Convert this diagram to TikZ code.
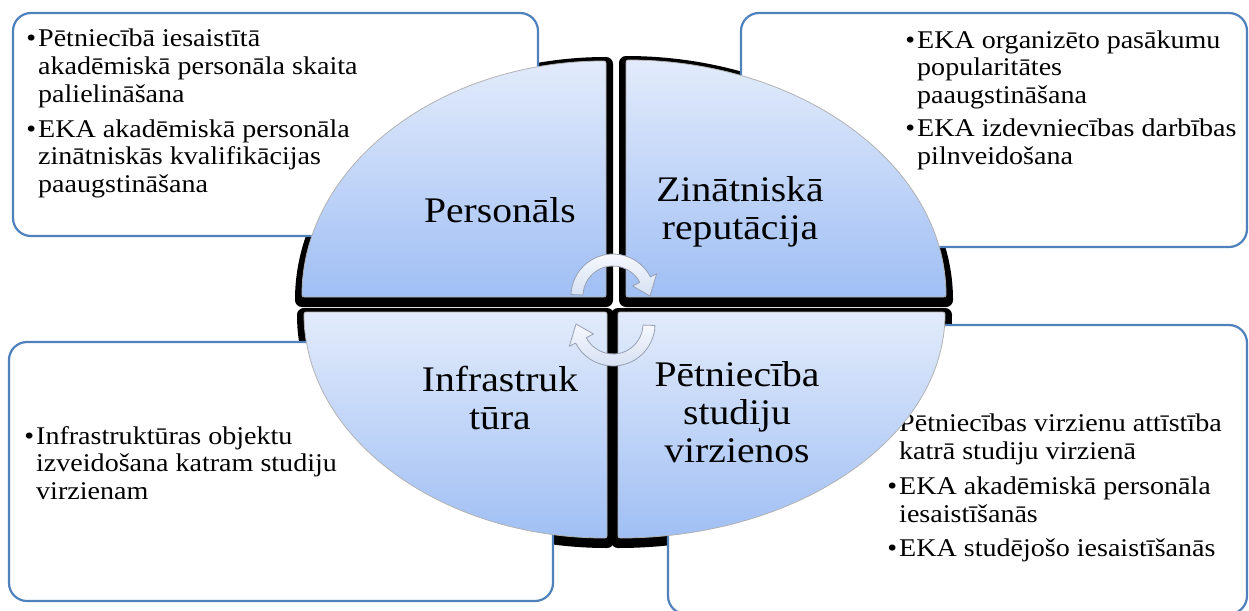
\documentclass[tikz,border=0pt]{standalone}
\usepackage{fontspec}
\setmainfont{Liberation Serif}[FakeStretch=1.1]
\usetikzlibrary{calc}
\definecolor{boxblue}{RGB}{79,129,189}
\definecolor{qtop}{RGB}{226,235,251}
\definecolor{qbot}{RGB}{160,191,244}
\definecolor{arrtop}{RGB}{246,248,253}
\definecolor{arrbot}{RGB}{214,225,243}
\definecolor{arrline}{RGB}{150,160,178}
\newcommand{\mybul}{\llap{\textbullet\hspace{2pt}}}
\def\qTL{(606,297) -- (302,297) arc[start angle=180, end angle=270, x radius=304, y radius=236] -- cycle}
\def\qTR{(626,297) -- (626,60) arc[start angle=270, end angle=360, x radius=320, y radius=237] -- cycle}
\def\qBL{(607,312) -- (304,312) arc[start angle=180, end angle=90, x radius=303, y radius=226] -- cycle}
\def\qBR{(618,312) -- (618,538) arc[start angle=90, end angle=0, x radius=327, y radius=226] -- cycle}
\begin{document}
\begin{tikzpicture}[x=1pt,y=-1pt,
  infobox/.style={draw=boxblue, line width=2.2pt, rounded corners=18pt, fill=white},
  qshadow/.style={fill=black, draw=black, line width=14pt, line join=round, shift={(0,3)}},
  qfill/.style={top color=qtop, bottom color=qbot, draw=gray!60, line width=0.8pt, rounded corners=2pt},
  btext/.style={inner sep=0pt, anchor=base west, align=left, font=\fontsize{25.5}{27.5}\selectfont},
  qlabel/.style={inner sep=0pt, anchor=base, align=center, font=\fontsize{36}{38}\selectfont},
  cyc/.style={top color=arrtop, bottom color=arrbot, draw=arrline, line width=0.8pt, line join=round}
]
\useasboundingbox (0,0) rectangle (1249,610);
\fill[white] (0,0) rectangle (1249,610);
% black outlines of the four quarters
\path[qshadow] \qTL;
\path[qshadow] \qTR;
\path[qshadow] \qBL;
\path[qshadow] \qBR;
% text boxes
\draw[infobox] (13,13) rectangle (538,236);
\draw[infobox] (741,13) rectangle (1247,247);
\draw[infobox] (9,342) rectangle (553,601);
\draw[infobox] (668,325) rectangle (1247,614);
% box texts (anchored at the baseline of their last line)
\node[btext] (tl1) at (38,102) {\mybul Pētniecībā iesaistītā\\akadēmiskā personāla skaita\\palielināšana};
\node[btext] (tl2) at (38,192) {\mybul EKA akadēmiskā personāla\\zinātniskās kvalifikācijas\\paaugstināšana};
\node[btext] (tr1) at (917,103) {\mybul EKA organizēto pasākumu\\popularitātes\\paaugstināšana};
\node[btext] (tr2) at (917,164) {\mybul EKA izdevniecības darbības\\pilnveidošana};
\node[btext] (bl1) at (36,499) {\mybul Infrastruktūras objektu\\izveidošana katram studiju\\virzienam};
\node[btext] (br1) at (899,459) {\mybul Pētniecības virzienu attīstība\\katrā studiju virzienā};
\node[btext] (br2) at (899,522) {\mybul EKA akadēmiskā personāla\\iesaistīšanās};
\node[btext] (br3) at (899,556) {\mybul EKA studējošo iesaistīšanās};
% quarter fills
\path[qfill] \qTL;
\path[qfill] \qTR;
\path[qfill] \qBL;
\path[qfill] \qBR;
% quarter labels (anchored at the baseline of their last line)
\node[qlabel] (lp) at (500,222) {Personāls};
\node[qlabel] (lz) at (740,239) {Zinātniskā\\reputācija};
\node[qlabel] (li) at (500,429) {Infrastruk\\tūra};
\node[qlabel] (ls) at (737,462) {Pētniecība\\studiju\\virzienos};
% cycle arrows
\coordinate (c1) at (613,296);
\coordinate (c2) at (613,324);
\draw[cyc] ($(c1)+(182:42)$) arc[start angle=182, end angle=333, radius=42]
  -- ($(c1)+(333:49)$) -- ($(c1)+(0:37)$) -- ($(c1)+(333:22)$) -- ($(c1)+(333:30)$)
  arc[start angle=333, end angle=182, radius=30] -- cycle;
\draw[cyc] ($(c2)+(2:42)$) arc[start angle=2, end angle=153, radius=42]
  -- ($(c2)+(153:49)$) -- ($(c2)+(180:37)$) -- ($(c2)+(153:22)$) -- ($(c2)+(153:30)$)
  arc[start angle=153, end angle=2, radius=30] -- cycle;
\end{tikzpicture}
\end{document}
